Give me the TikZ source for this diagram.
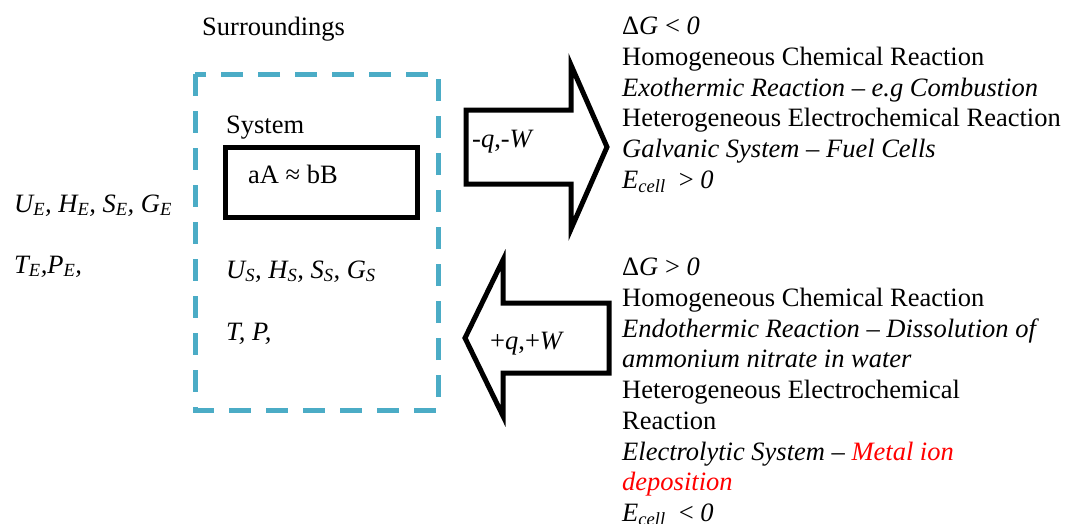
\documentclass[tikz,border=0pt]{standalone}
\usepackage{fontspec}
\setmainfont{Liberation Serif}
\usepackage{xcolor}
\definecolor{surr}{RGB}{75,172,198}
\usetikzlibrary{positioning}

\begin{document}
\begin{tikzpicture}[x=1pt, y=-1pt,
       txt/.style = {inner sep=0pt, anchor=base west,
                     font=\fontsize{26.5}{30.7}\selectfont},
       blk/.style = {txt, anchor=north west, align=left},
      surr/.style = {draw=surr, line width=5pt,
                     dash pattern=on 22pt off 15pt},
      sysb/.style = {draw, line width=5pt},
       arw/.style = {draw, line width=5pt, line join=miter, fill=white},
                    ]
    \useasboundingbox (0,0) rectangle (1065,523);
    % surroundings and system boxes
    \draw[surr] (195,74) rectangle (438,410);
    \draw[sysb] (225.5,147.5) rectangle (417,217.5);
    \node[txt] (surrl) at (202,35)  {Surroundings};
    \node[txt] (sysl)  at (226,133) {System};
    \node[txt] (eq)    at (248,183) {aA ≈ bB};
    \node[txt] (stS)   at (226,278)
        {\itshape U\textsubscript{S}, H\textsubscript{S}, S\textsubscript{S}, G\textsubscript{S}};
    \node[txt] (tpS)   at (226,340) {\itshape T, P,};
    %% surroundings state
    \node[txt] (stE)   at (14,212)
        {\itshape U\textsubscript{E}, H\textsubscript{E}, S\textsubscript{E}, G\textsubscript{E}};
    \node[txt] (tpE)   at (14,273) {\itshape T\textsubscript{E},P\textsubscript{E},};
    %% arrows
    \draw[arw] (466,110) -- (571,110) -- (571,65) -- (607,147)
               -- (571,229) -- (571,184) -- (466,184) -- cycle;
    \draw[arw] (609,303) -- (503,303) -- (503,260) -- (465,338)
               -- (503,416) -- (503,373) -- (609,373) -- cycle;
    \node[txt] (outl) at (472,147) {-\textit{q},-\textit{W}};
    \node[txt] (inl)  at (490,349) {+\textit{q},+\textit{W}};
    %% right hand text
    \node[blk] (spont) at (622,17)
       {Δ\textit{G} < \textit{0}\\
        Homogeneous Chemical Reaction\\
        \textit{Exothermic Reaction – e.g Combustion}\\
        Heterogeneous Electrochemical Reaction\\
        \textit{Galvanic System – Fuel Cells}\\
        \textit{E\textsubscript{cell}} \ > \textit{0}};
    \node[blk] (nonsp) at (622,258)
       {Δ\textit{G} > \textit{0}\\
        Homogeneous Chemical Reaction\\
        \textit{Endothermic Reaction – Dissolution of}\\
        \textit{ammonium nitrate in water}\\
        Heterogeneous Electrochemical\\
        Reaction\\
        \textit{Electrolytic System – \textcolor{red}{Metal ion}}\\
        \textit{\textcolor{red}{deposition}}\\
        \textit{E\textsubscript{cell}} \ < \textit{0}};
\end{tikzpicture}
\end{document}
